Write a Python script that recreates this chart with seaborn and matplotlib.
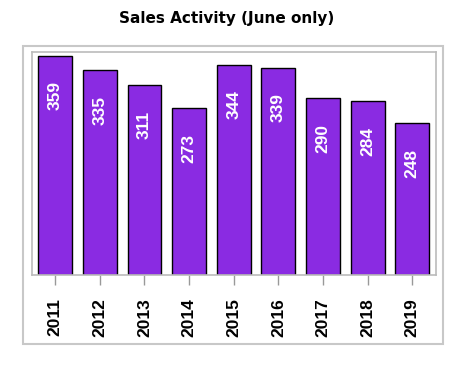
import matplotlib
matplotlib.use("Agg")
import matplotlib.pyplot as plt
import seaborn as sns
import pandas as pd
from matplotlib.patches import Rectangle

years = ["2011", "2012", "2013", "2014", "2015", "2016", "2017", "2018", "2019"]
sales = [359, 335, 311, 273, 344, 339, 290, 284, 248]

sns.set_theme(style="white")
plt.rcParams['font.family'] = ['DejaVu Sans']
num_font = ['Liberation Sans Narrow', 'Liberation Sans']

df = pd.DataFrame({"year": years, "sales": sales})

fig = plt.figure(figsize=(4.66, 3.78), dpi=100)
ax = fig.add_axes([32/466, 1-275/378, (436-32)/466, (275-52)/378])

sns.barplot(data=df, x="year", y="sales", color="#8A2BE2", saturation=1,
            width=0.76, edgecolor="black", linewidth=1.0, ax=ax)

for i, v in enumerate(sales):
    ax.annotate(str(v), xy=(i, v), xytext=(0, -18.5), textcoords="offset points",
                rotation=90, ha="center", va="top", color="white",
                fontsize=12.5, fontweight="bold", family=num_font)

ax.set_ylim(0, 365)
ax.set_xlim(-0.52, 8.53)
ax.set_xlabel("")
ax.set_ylabel("")
ax.set_yticks([])
ax.tick_params(axis="x", length=7, color="#999999", width=1, pad=10, bottom=True)
for lab in ax.get_xticklabels():
    lab.set_rotation(90)
    lab.set_fontweight("bold")
    lab.set_fontsize(12.5)
    lab.set_family(num_font)
    lab.set_color("black")
for s in ax.spines.values():
    s.set_color("#bbbbbb")
    s.set_linewidth(1.2)

fig.patches.append(Rectangle((23/466, 1-344/378), (443-23)/466, (344-46)/378,
                             transform=fig.transFigure, fill=False,
                             edgecolor="#c8c8c8", linewidth=1.5))

fig.text(227/466, 1-18/378, "Sales Activity (June only)", ha="center", va="center",
         fontsize=11, fontweight="bold", color="black")

fig.savefig("out.png", dpi=100)
